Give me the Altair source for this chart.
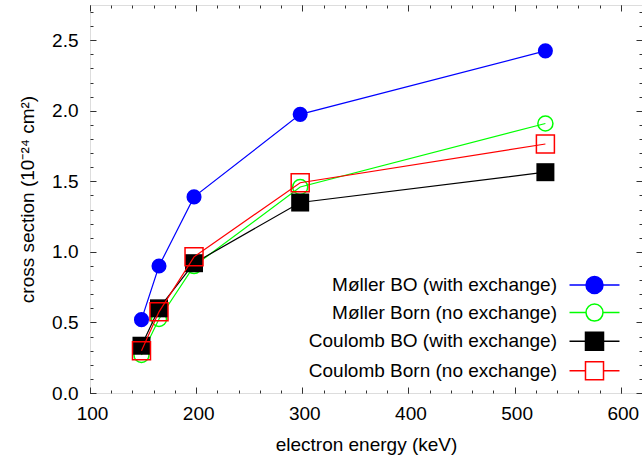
import altair as alt
import pandas as pd

# Electron energy (keV) and cross sections (10^-24 cm^2)
energy = [148.5, 165, 198, 298, 529]
moller_bo = [0.52, 0.90, 1.39, 1.975, 2.425]
moller_born = [0.27, 0.525, 0.90, 1.46, 1.91]
coulomb_bo = [0.335, 0.60, 0.92, 1.35, 1.565]
coulomb_born = [0.30, 0.575, 0.965, 1.49, 1.765]

series_names = [
    "Møller BO (with exchange)",
    "Møller Born (no exchange)",
    "Coulomb BO (with exchange)",
    "Coulomb Born (no exchange)",
]
series_colors = ["#0000ff", "#00ff00", "#000000", "#ff0000"]
series_fills = ["#0000ff", "transparent", "#000000", "transparent"]

x_major = [100, 200, 300, 400, 500, 600]
x_minor = list(range(100, 621, 20))
y_major = [0.0, 0.5, 1.0, 1.5, 2.0, 2.5]
y_minor = [round(0.1 * i, 1) for i in range(28)]

FONT = "Liberation Sans"
FS = 19
W, H = 552, 388

rows = []
for name, vals in zip(series_names, [moller_bo, moller_born, coulomb_bo, coulomb_born]):
    for e, v in zip(energy, vals):
        rows.append({"energy": e, "value": v, "series": name})
df = pd.DataFrame(rows)

xs = alt.Scale(domain=[100, 620], nice=False, zero=False)
ys = alt.Scale(domain=[0, 2.75], nice=False, zero=False)


def tick_axis(orient, offset, values, size):
    return alt.Axis(orient=orient, offset=offset, values=values, labels=False,
                    domain=False, grid=False, ticks=True, tickSize=size,
                    tickColor="#333333", tickWidth=1, title=None)


# labelled axes
x_label_axis = alt.Axis(orient="bottom", values=x_major, ticks=False, domain=False,
                        grid=False, labelFont=FONT, labelFontSize=FS, labelColor="black",
                        labelPadding=11, labelFlush=False, labelOffset=2,
                        title="electron energy (keV)", titleFont=FONT,
                        titleFontSize=FS, titleFontWeight="normal", titleColor="black",
                        titlePadding=12)
y_label_axis = alt.Axis(orient="left", values=y_major, format=".1f", ticks=False,
                        domain=False, grid=False, labelFont=FONT, labelFontSize=FS,
                        labelColor="black", labelPadding=12, labelFlush=False,
                        title="cross section (10⁻²⁴ cm²)", titleFont=FONT,
                        titleFontSize=FS, titleFontWeight="normal", titleColor="black",
                        titlePadding=14)

# inward ticks on all four sides
axes = [
    (x_label_axis, y_label_axis),
    (tick_axis("top", -H, x_major, 6), tick_axis("right", -W, y_major, 6)),
    (tick_axis("top", -H, x_minor, 3), tick_axis("right", -W, y_minor, 3)),
    (tick_axis("bottom", -H, x_major, 6), tick_axis("left", -W, y_major, 6)),
    (tick_axis("bottom", -H, x_minor, 3), tick_axis("left", -W, y_minor, 3)),
]

shapes = ["circle", "circle", "square", "square"]
filled = [True, False, True, False]
sizes = [227, 227, 324, 324]

layers = []
for i, name in enumerate(series_names):
    ax, ay = axes[i]
    layers.append(
        alt.Chart(df)
        .transform_filter(alt.datum.series == name)
        .mark_line(
            color=series_colors[i], strokeWidth=1.2,
            point=alt.OverlayMarkDef(shape=shapes[i], size=sizes[i], filled=filled[i],
                                     color=series_colors[i], opacity=1, strokeWidth=1.5),
        )
        .encode(
            x=alt.X("energy:Q", scale=xs, axis=ax),
            y=alt.Y("value:Q", scale=ys, axis=ay),
        )
    )

# key symbols: line sample with the marker in its middle, drawn to the right of the label
circle_path = ("M2.59,0H4.53M6.53,0H8.47"
               "M4.53,0A1,1,0,1,1,6.53,0A1,1,0,1,1,4.53,0Z")
square_path = ("M2.59,0H4.47M6.59,0H8.47"
               "M4.47,-1.06H6.59V1.06H4.47Z")
key_paths = [circle_path, circle_path, square_path, square_path]

key = alt.Legend(orient="none", legendX=448, legendY=270.5, title=None, padding=0,
                 labelAlign="right", labelOffset=0, symbolOffset=0,
                 labelFont=FONT, labelFontSize=FS,
                 labelColor="black", labelLimit=500, rowPadding=4.6, symbolSize=289,
                 symbolStrokeWidth=1.5, symbolOpacity=1)

ax, ay = axes[4]
key_layer = (
    alt.Chart(df)
    .transform_filter("false")
    .mark_point(size=289, opacity=1, strokeWidth=1.5)
    .encode(
        x=alt.X("energy:Q", scale=xs, axis=ax),
        y=alt.Y("value:Q", scale=ys, axis=ay),
        stroke=alt.Stroke("series:N", scale=alt.Scale(domain=series_names, range=series_colors), legend=key),
        fill=alt.Fill("series:N", scale=alt.Scale(domain=series_names, range=series_fills), legend=key),
        shape=alt.Shape("series:N", scale=alt.Scale(domain=series_names, range=key_paths), legend=key),
    )
)
layers.append(key_layer)

chart = (
    alt.layer(*layers)
    .resolve_axis(x="independent", y="independent")
    .properties(width=W, height=H, autosize=alt.AutoSizeParams(type="none"),
                padding={"left": 90, "top": 5, "right": 0, "bottom": 65})
    .configure_view(stroke="#2b2b2b", strokeWidth=1.5)
    .configure(background="white")
)

chart.save("out.html", embed_options={"renderer": "svg", "actions": False})
